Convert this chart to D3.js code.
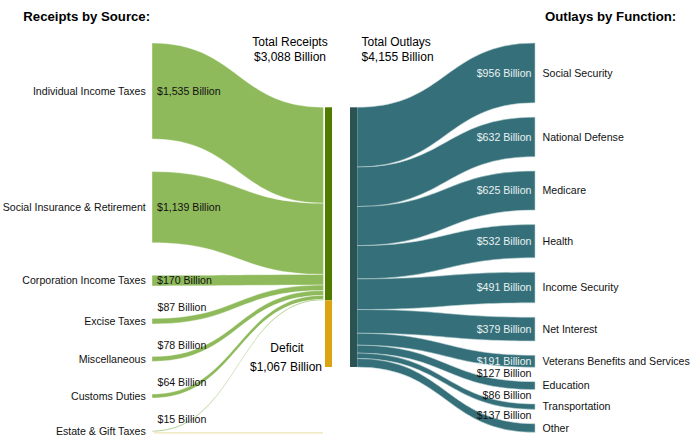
<!DOCTYPE html>
<html><head><meta charset="utf-8">
<script src="https://cdn.jsdelivr.net/npm/d3@7"></script>
<style>body{margin:0;background:#fff}svg{display:block}text{font-family:"Liberation Sans",Arial,sans-serif}</style>
</head><body><svg id="c" width="700" height="444"></svg>
<script>
// ---- data ----
const receiptNames = ["Individual Income Taxes","Social Insurance & Retirement","Corporation Income Taxes","Excise Taxes","Miscellaneous","Customs Duties","Estate & Gift Taxes"];
const receiptValues = [1535,1139,170,87,78,64,15];
const receiptLabels = ["$1,535 Billion","$1,139 Billion","$170 Billion","$87 Billion","$78 Billion","$64 Billion","$15 Billion"];
const outlayNames = ["Social Security","National Defense","Medicare","Health","Income Security","Net Interest","Veterans Benefits and Services","Education","Transportation","Other"];
const outlayValues = [956,632,625,532,491,379,191,127,86,137];
const outlayLabels = ["$956 Billion","$632 Billion","$625 Billion","$532 Billion","$491 Billion","$379 Billion","$191 Billion","$127 Billion","$86 Billion","$137 Billion"];
const totalReceipts = 3088, deficit = 1067, totalOutlays = 4155;

// ---- layout ----
const svg = d3.select("#c");
const h = d3.scaleLinear().domain([0, totalOutlays]).range([0, 259.7]);
const barTop = 107.3;
const srcX = 152, lBar0 = 325, lBar1 = 332;
const rBar0 = 350, rBar1 = 357, tgtX = 535;
const topY = 43, lGap = 32.6, rGap = 14.4;

function ribbon(x0, a0, b0, x1, a1, b1) {
  const xm = (x0 + x1) / 2;
  return `M${x0},${a0}C${xm},${a0} ${xm},${a1} ${x1},${a1}L${x1},${b1}C${xm},${b1} ${xm},${b0} ${x0},${b0}Z`;
}

// left nodes
let y = topY, yb = barTop;
const left = receiptValues.map((v, i) => {
  const t = h(v);
  const o = {i, v, y0: y, y1: y + t, b0: yb, b1: yb + t};
  y += t + lGap; yb += t;
  return o;
});
// right nodes
y = topY; yb = barTop;
const right = outlayValues.map((v, i) => {
  const t = h(v);
  const o = {i, v, y0: y, y1: y + t, b0: yb, b1: yb + t};
  y += t + rGap; yb += t;
  return o;
});

const green = "#8fba5c", darkGreen = "#4e7b00", gold = "#dba412", teal = "#35707a", darkTeal = "#2c5354";

// pale deficit guide line at bottom
const lastL = left[left.length - 1];
svg.append("line").attr("x1", srcX + 2).attr("x2", lBar0 - 2)
  .attr("y1", lastL.y1 + 1.2).attr("y2", lastL.y1 + 1.2)
  .attr("stroke", "#efe3b5").attr("stroke-width", 1.2);

// left links
svg.append("g").selectAll("path").data(left).join("path")
  .attr("d", d => ribbon(srcX, d.y0, d.y1, lBar0 - 1.5, d.b0, d.b1))
  .attr("fill", green).attr("stroke", "#ffffff").attr("stroke-opacity", 0.55).attr("stroke-width", 0.7);

// right links
svg.append("g").selectAll("path").data(right).join("path")
  .attr("d", d => ribbon(rBar1, d.b0, d.b1, tgtX, d.y0, d.y1))
  .attr("fill", teal).attr("stroke", "#b9d0d3").attr("stroke-opacity", 0.8).attr("stroke-width", 0.7);

// bars
svg.append("rect").attr("x", lBar0).attr("width", lBar1 - lBar0).attr("y", barTop).attr("height", h(totalReceipts)).attr("fill", darkGreen);
svg.append("rect").attr("x", lBar0).attr("width", lBar1 - lBar0).attr("y", barTop + h(totalReceipts)).attr("height", h(deficit)).attr("fill", gold);
svg.append("rect").attr("x", rBar0).attr("width", rBar1 - rBar0).attr("y", barTop).attr("height", h(totalOutlays)).attr("fill", darkTeal);

// titles
svg.append("text").attr("x", 23.3).attr("y", 20.5).attr("font-size", 13.2).attr("font-weight", "bold").text("Receipts by Source:");
svg.append("text").attr("x", 545).attr("y", 20.5).attr("font-size", 13.2).attr("font-weight", "bold").text("Outlays by Function:");

const fs = 10.6;
// left category labels
svg.append("g").selectAll("text").data(left).join("text")
  .attr("x", 145.8).attr("y", d => (d.y0 + d.y1) / 2).attr("dy", "0.35em")
  .attr("text-anchor", "end").attr("font-size", fs).attr("fill", "#111").text(d => receiptNames[d.i]);
// left value labels
svg.append("g").selectAll("text").data(left).join("text")
  .attr("x", d => d.i < 3 ? 157 : 157.5)
  .attr("y", d => d.i < 3 ? (d.y0 + d.y1) / 2 : d.y0 - 11.5).attr("dy", "0.35em")
  .attr("font-size", fs).attr("fill", "#111").text(d => receiptLabels[d.i]);

// right category labels
svg.append("g").selectAll("text").data(right).join("text")
  .attr("x", 542.5).attr("y", d => (d.y0 + d.y1) / 2).attr("dy", "0.35em")
  .attr("font-size", fs).attr("fill", "#111").text(d => outlayNames[d.i]);
// right value labels
svg.append("g").selectAll("text").data(right).join("text")
  .attr("x", 531.5)
  .attr("y", d => d.i < 7 ? (d.y0 + d.y1) / 2 : d.y0 - 8.5).attr("dy", "0.35em")
  .attr("text-anchor", "end").attr("font-size", fs)
  .attr("fill", d => d.i < 7 ? "#e8f1f2" : "#111").text(d => outlayLabels[d.i]);

// totals
const fmt = v => "$" + d3.format(",")(v) + " Billion";
svg.append("text").attr("x", 290).attr("y", 46).attr("text-anchor", "middle").attr("font-size", 12).text("Total Receipts");
svg.append("text").attr("x", 290).attr("y", 61).attr("text-anchor", "middle").attr("font-size", 12).text(fmt(totalReceipts));
svg.append("text").attr("x", 361.5).attr("y", 46).attr("font-size", 12).text("Total Outlays");
svg.append("text").attr("x", 361.5).attr("y", 61).attr("font-size", 12).text(fmt(totalOutlays));
svg.append("text").attr("x", 287).attr("y", 347.7).attr("dy", "0.35em").attr("text-anchor", "middle").attr("font-size", 12).text("Deficit");
svg.append("text").attr("x", 286).attr("y", 366.7).attr("dy", "0.35em").attr("text-anchor", "middle").attr("font-size", 12).text(fmt(deficit));
</script></body></html>
